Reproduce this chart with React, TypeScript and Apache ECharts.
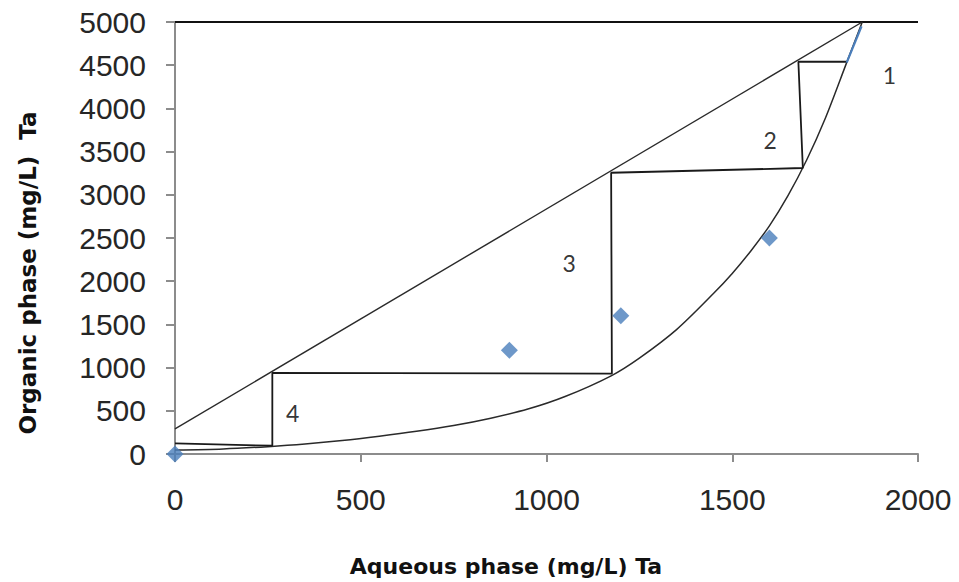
import React, { useEffect, useRef } from "react";
import * as echarts from "echarts";

// Equilibrium isotherm (aqueous mg/L, organic mg/L)
const curveX = [0, 130, 250, 350, 450, 550, 650, 750, 850, 950, 1050, 1174, 1250, 1350, 1450, 1500, 1550, 1600, 1650, 1700, 1750, 1808, 1850];
const curveY = [45, 58, 85, 115, 155, 205, 262, 330, 415, 520, 665, 905, 1110, 1440, 1860, 2090, 2350, 2640, 2990, 3400, 3880, 4530, 5000];

// Operating line
const opX = [0, 1850];
const opY = [290, 5000];

// McCabe-Thiele stage steps
const stepX = [1808, 1678, 1690, 1174, 1176, 262, 262, 0];
const stepY = [4540, 4540, 3310, 3255, 930, 940, 96, 122];

// Feed line at top
const topX = [0, 2000];
const topY = [5000, 5000];

// Experimental points
const expX = [0, 900, 1200, 1600];
const expY = [0, 1200, 1600, 2500];

// Blue highlighted segment
const blueX = [1808, 1848];
const blueY = [4530, 4950];

// Stage labels
const stageNames = ["1", "2", "3", "4"];
const stageX = [1923, 1602, 1061, 317];
const stageY = [4387, 3634, 2207, 471];

const xTicks = { min: 0, max: 2000, interval: 500 };
const yTicks = { min: 0, max: 5000, interval: 500 };

const zip = (xs: number[], ys: number[]) => xs.map((x, i) => [x, ys[i]]);

export default function App() {
  const ref = useRef<HTMLDivElement>(null);
  useEffect(() => {
    if (!ref.current) return;
    const chart = echarts.init(ref.current, null, { renderer: "svg" });
    const axisGray = "#8c8c8c";
    const labelStyle = {
      fontFamily: "Liberation Sans",
      fontSize: 30,
      color: "#262626",
      formatter: (v: number) => String(v),
    };
    chart.setOption({
      animation: false,
      backgroundColor: "#ffffff",
      grid: { left: 175, right: 41, top: 22, bottom: 128, containLabel: false },
      xAxis: {
        type: "value",
        min: xTicks.min,
        max: xTicks.max,
        interval: xTicks.interval,
        splitLine: { show: false },
        axisLine: { show: true, lineStyle: { color: axisGray, width: 2 } },
        axisTick: { show: true, inside: false, length: 8, lineStyle: { color: axisGray, width: 2 } },
        axisLabel: { ...labelStyle, margin: 30 },
      },
      yAxis: {
        type: "value",
        min: yTicks.min,
        max: yTicks.max,
        interval: yTicks.interval,
        splitLine: { show: false },
        axisLine: { show: true, lineStyle: { color: axisGray, width: 2 } },
        axisTick: { show: true, inside: false, length: 9, lineStyle: { color: axisGray, width: 2 } },
        axisLabel: { ...labelStyle, margin: 29 },
      },
      graphic: [
        {
          type: "text",
          x: 506,
          y: 566,
          style: {
            text: "Aqueous phase (mg/L) Ta",
            fontFamily: "DejaVu Sans",
            fontWeight: "bold",
            fontSize: 22,
            fill: "#111",
            textAlign: "center",
            textVerticalAlign: "middle",
          },
        },
        {
          type: "text",
          x: 28,
          y: 273,
          rotation: Math.PI / 2,
          style: {
            text: "Organic phase (mg/L)  Ta",
            fontFamily: "DejaVu Sans",
            fontWeight: "bold",
            fontSize: 23,
            fill: "#111",
            textAlign: "center",
            textVerticalAlign: "middle",
          },
        },
      ],
      series: [
        {
          type: "line",
          data: zip(topX, topY),
          symbol: "none",
          lineStyle: { color: "#111", width: 2 },
          z: 3,
        },
        {
          type: "line",
          data: zip(opX, opY),
          symbol: "none",
          lineStyle: { color: "#2a2a2a", width: 1.4 },
          z: 3,
        },
        {
          type: "line",
          data: zip(curveX, curveY),
          symbol: "none",
          smooth: 0.3,
          lineStyle: { color: "#2a2a2a", width: 1.5 },
          z: 3,
        },
        {
          type: "line",
          data: zip(stepX, stepY),
          symbol: "none",
          lineStyle: { color: "#1a1a1a", width: 1.8 },
          z: 3,
        },
        {
          type: "line",
          data: zip(blueX, blueY),
          symbol: "none",
          lineStyle: { color: "#4a7ebb", width: 2.2 },
          z: 4,
        },
        {
          type: "scatter",
          data: zip(expX, expY),
          symbol: "diamond",
          symbolSize: 17,
          itemStyle: { color: "#4a7ebb" },
          z: 5,
        },
        {
          type: "scatter",
          data: stageX.map((x, i) => ({ value: [x, stageY[i]], name: stageNames[i] })),
          symbolSize: 1,
          itemStyle: { color: "rgba(0,0,0,0)" },
          label: {
            show: true,
            position: "inside",
            formatter: (p: any) => p.name,
            fontFamily: "Lato",
            fontSize: 23,
            color: "#000",
          },
          z: 6,
        },
      ],
    });
    return () => chart.dispose();
  }, []);
  return (
    <div
      ref={ref}
      style={{ position: "absolute", left: 0, top: 0, width: 959, height: 582 }}
    />
  );
}
